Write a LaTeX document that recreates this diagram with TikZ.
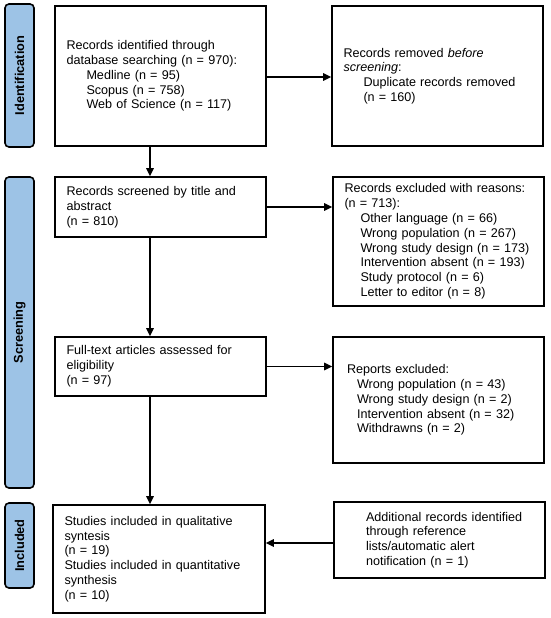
\documentclass[tikz,border=0pt]{standalone}
\usepackage{fontspec}
\setmainfont{Liberation Sans}
\usetikzlibrary{arrows.meta}
\definecolor{phase}{HTML}{9DC3E6}
\begin{document}
\begin{tikzpicture}[x=1pt,y=-1pt,
  box/.style={draw=black,line width=1.6pt,rectangle,inner xsep=11.5pt,inner ysep=2pt,
    align=left,font=\fontsize{12.6}{14.8}\selectfont},
  phasebox/.style={draw=black,fill=phase,line width=1.6pt,rounded corners=4pt,
    inner sep=0pt,minimum width=29pt},
  phasetext/.style={rotate=90,font=\bfseries\fontsize{12.8}{14}\selectfont},
  flow/.style={line width=1.6pt,-{Triangle[length=8pt,width=7.5pt]}}]
\useasboundingbox (0,0) rectangle (550,618);
\def\ind{\hspace*{20pt}}
% phase labels
\node[phasebox,minimum height=143pt] (pI) at (19.5,75.5) {};
\node[phasetext] (tI) at (pI.center) {Identification};
\node[phasebox,minimum height=311pt] (pS) at (19.5,332.5) {};
\node[phasetext] (tS) at (pS.center) {Screening};
\node[phasebox,minimum height=85pt] (pN) at (19.5,545.5) {};
\node[phasetext] (tN) at (pN.center) {Included};
% boxes
\node[box,text width=188pt,minimum width=211pt,minimum height=140pt] (A) at (160.5,76)
 {Records identified through\\database searching (n = 970):\\\ind Medline (n = 95)\\\ind Scopus (n = 758)\\\ind Web of Science (n = 117)};
\node[box,text width=188pt,minimum width=211pt,minimum height=140pt] (B) at (437.5,76)
 {Records removed \textit{before}\\\textit{screening}:\\\ind Duplicate records removed\\\ind (n = 160)};
\node[box,text width=188pt,minimum width=211pt,minimum height=60pt] (C) at (160.5,207)
 {Records screened by title and\\abstract\\(n = 810)};
\node[box,text width=188pt,minimum width=211pt,minimum height=129pt] (D) at (438.5,241.5)
 {Records excluded with reasons:\\(n = 713):\\\hspace*{16pt}Other language (n = 66)\\\hspace*{16pt}Wrong population (n = 267)\\\hspace*{16pt}Wrong study design (n = 173)\\\hspace*{16pt}Intervention absent (n = 193)\\\hspace*{16pt}Study protocol (n = 6)\\\hspace*{16pt}Letter to editor (n = 8)};
\node[box,text width=188pt,minimum width=211pt,minimum height=59pt] (E) at (160.5,366.5)
 {Full-text articles assessed for\\eligibility\\(n = 97)};
\node[box,text width=188pt,minimum width=211pt,minimum height=126pt] (F) at (438.5,400)
 {\hspace*{2.5pt}Reports excluded:\\\hspace*{12.5pt}Wrong population (n = 43)\\\hspace*{12.5pt}Wrong study design (n = 2)\\\hspace*{12.5pt}Intervention absent (n = 32)\\\hspace*{12.5pt}Withdrawns (n = 2)};
\node[box,text width=189pt,minimum width=212pt,minimum height=108pt] (G) at (159,559)
 {Studies included in qualitative\\syntesis\\(n = 19)\\Studies included in quantitative\\synthesis\\(n = 10)};
\node[box,text width=188pt,minimum width=211pt,minimum height=76pt] (H) at (439.5,540)
 {\hspace*{20.5pt}Additional records identified\\\hspace*{20.5pt}through reference\\\hspace*{20.5pt}lists/automatic alert\\\hspace*{20.5pt}notification (n = 1)};
% connectors
\coordinate (spine) at (150,0);
\draw[flow] (A.south -| spine) -- (C.north -| spine);
\draw[flow] (C.south -| spine) -- (E.north -| spine);
\draw[flow] (E.south -| spine) -- (G.north -| spine);
\draw[flow] ([yshift=-1pt]A.east) -- ([yshift=-1pt]A.east -| B.west);
\draw[flow] (C.east) -- (C.east -| D.west);
\draw[flow] (E.east) -- (E.east -| F.west);
\draw[flow] ([yshift=-3pt]H.west) -- ([yshift=-3pt]H.west -| G.east);
\end{tikzpicture}
\end{document}
